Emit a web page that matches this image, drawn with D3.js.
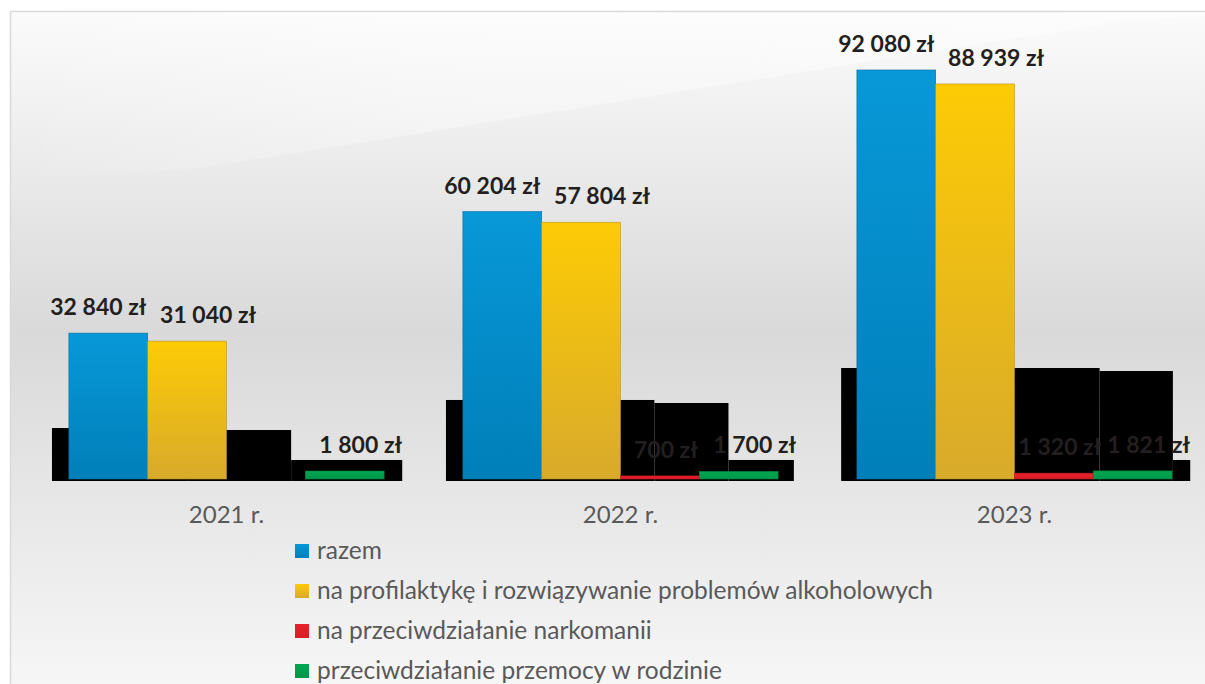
<!DOCTYPE html>
<html>
<head>
<meta charset="utf-8">
<script src="https://cdn.jsdelivr.net/npm/d3@7"></script>
<style>
  body { margin: 0; background: #fff; }
  svg { display: block; font-family: Lato, "Open Sans", sans-serif; }
</style>
</head>
<body>
<div id="chart"></div>
<script>
// <-- Data -->
const years = ["2021 r.", "2022 r.", "2023 r."];
const seriesNames = [
  "razem",
  "na profilaktykę i rozwiązywanie problemów alkoholowych",
  "na przeciwdziałanie narkomanii",
  "przeciwdziałanie przemocy w rodzinie"
];
const razem      = [32840, 60204, 92080];
const alkohol    = [31040, 57804, 88939];
const narkomania = [0, 700, 1320];
const przemoc    = [1800, 1700, 1821];

// black label-box artefacts of the original export (tops in zł, edges in bar slots)
const boxTops  = [[11480, 11030, 4280], [17790, 17110, 4280], [24990, 24310, 4280]];
const boxEdges = [[-0.215, 1.5, 2.82, 4.23], [-0.215, 2.43, 3.37, 4.2], [-0.2, 3.08, 4.01, 4.23]];

;(function(){
  const width = 1205, height = 684;
  const colors = [
    ["#0898d8", "#007fb9"],
    ["#fdcb05", "#d8aa2b"],
    ["#e8202a", "#d81e28"],
    ["#00a651", "#00964a"]
  ];
  const labelDx = [-10, 21, 6, 16];
  const values = [razem, alkohol, narkomania, przemoc];

  const svg = d3.select("#chart").append("svg")
      .attr("width", width).attr("height", height);

  const defs = svg.append("defs");
  const bg = defs.append("linearGradient").attr("id", "bg")
      .attr("x1", 0).attr("y1", 0).attr("x2", 0).attr("y2", 1);
  bg.append("stop").attr("offset", "0").attr("stop-color", "#fbfbfb");
  bg.append("stop").attr("offset", "0.47").attr("stop-color", "#d9d9d9");
  bg.append("stop").attr("offset", "1").attr("stop-color", "#f7f7f7");

  const sheen = defs.append("linearGradient").attr("id", "sheen")
      .attr("x1", 0).attr("y1", 0).attr("x2", 1).attr("y2", 0);
  sheen.append("stop").attr("offset", "0").attr("stop-color", "#fff").attr("stop-opacity", 0);
  sheen.append("stop").attr("offset", "0.35").attr("stop-color", "#fff").attr("stop-opacity", 0.35);
  sheen.append("stop").attr("offset", "1").attr("stop-color", "#fff").attr("stop-opacity", 0.45);

  colors.forEach(function(c, i){
    const g = defs.append("linearGradient").attr("id", "g" + i)
        .attr("x1", 0).attr("y1", 0).attr("x2", 0).attr("y2", 1);
    g.append("stop").attr("offset", "0").attr("stop-color", c[0]);
    g.append("stop").attr("offset", "1").attr("stop-color", c[1]);
  });

  // chart area
  svg.append("rect")
      .attr("x", 10.5).attr("y", 11.5)
      .attr("width", width).attr("height", height)
      .attr("fill", "url(#bg)")
      .attr("stroke", "#d9d9d9").attr("stroke-width", 1.5);

  // light diagonal sheen
  svg.append("path")
      .attr("d", "M11,12 L1205,12 L1205,16 L1130,20 L200,168 L11,180 Z")
      .attr("fill", "url(#sheen)");

  const x0 = d3.scaleBand().domain(years).range([29.5, 1211.5]);
  const x1 = d3.scaleBand().domain(d3.range(4)).range([0, x0.bandwidth()]).paddingOuter(0.5);
  const y = d3.scaleLinear().domain([0, 100000]).range([479, 34.8]);
  const slot = x1.step();

  const groups = svg.selectAll(".year").data(years).enter()
      .append("g").attr("class", "year")
      .attr("transform", function(d){ return "translate(" + x0(d) + ",0)"; });

  // artefact boxes
  groups.each(function(d, yi){
    const g = d3.select(this);
    const edges = boxEdges[yi];
    boxTops[yi].forEach(function(t, k){
      g.append("rect")
        .attr("x", x1(0) + edges[k] * slot)
        .attr("width", (edges[k + 1] - edges[k]) * slot)
        .attr("y", y(t))
        .attr("height", y(0) + 2 - y(t))
        .attr("fill", "#000");
    });
  });

  // bars
  groups.each(function(d, yi){
    const g = d3.select(this);
    values.forEach(function(v, si){
      if (!v[yi]) return;
      g.append("rect")
        .attr("x", x1(si))
        .attr("width", x1.bandwidth())
        .attr("y", y(v[yi]))
        .attr("height", y(0) - y(v[yi]))
        .attr("fill", "url(#g" + si + ")")
        .attr("stroke", d3.color(colors[si][1]).darker(0.4))
        .attr("stroke-width", 0.6);
    });
  });

  // value labels
  const fmt = function(v){ return d3.format(",")(v).replace(/,/g, " ") + " zł"; };
  groups.each(function(d, yi){
    const g = d3.select(this);
    values.forEach(function(v, si){
      if (!v[yi]) return;
      g.append("text")
        .attr("x", x1(si) + x1.bandwidth() / 2 + labelDx[si])
        .attr("y", y(v[yi]) - 18)
        .attr("text-anchor", "middle")
        .attr("font-size", 23)
        .attr("font-weight", "bold")
        .attr("fill", "#231f20")
        .text(fmt(v[yi]));
    });
  });

  // category axis labels
  svg.selectAll(".cat").data(years).enter()
    .append("text")
      .attr("x", function(d){ return x0(d) + x0.bandwidth() / 2; })
      .attr("y", 523)
      .attr("text-anchor", "middle")
      .attr("font-size", 24)
      .attr("fill", "#595959")
      .text(function(d){ return d; });

  // legend
  const legend = svg.selectAll(".leg").data(seriesNames).enter()
    .append("g").attr("class", "leg")
      .attr("transform", function(d, i){ return "translate(295," + (544 + i * 40) + ")"; });
  legend.append("rect")
      .attr("width", 14).attr("height", 14)
      .attr("fill", function(d, i){ return "url(#g" + i + ")"; });
  legend.append("text")
      .attr("x", 22).attr("y", 15)
      .attr("font-size", 24.5)
      .attr("fill", "#595959")
      .text(function(d){ return d; });
})();
</script>
</body>
</html>
